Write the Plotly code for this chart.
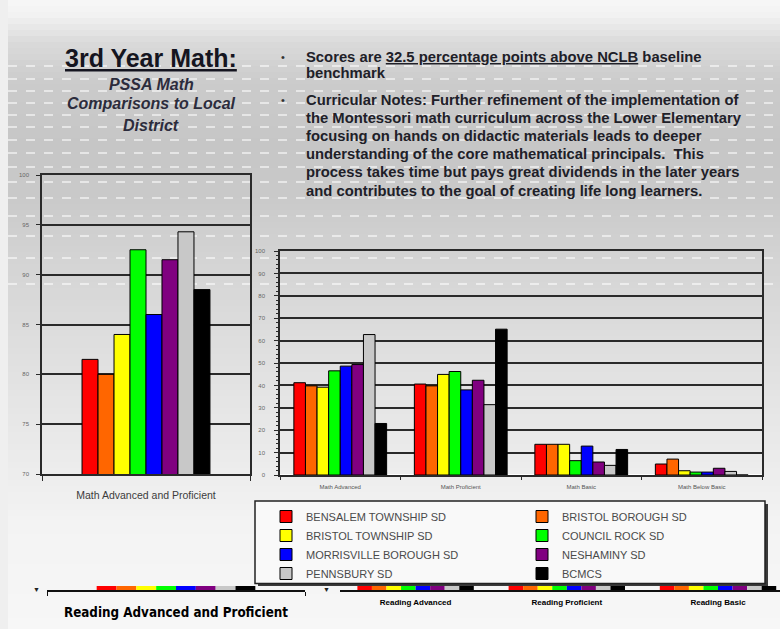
import plotly.graph_objects as go

# ---------------- data ----------------
districts = ["BENSALEM TOWNSHIP SD", "BRISTOL BOROUGH SD", "BRISTOL TOWNSHIP SD",
             "COUNCIL ROCK SD", "MORRISVILLE BOROUGH SD", "NESHAMINY SD",
             "PENNSBURY SD", "BCMCS"]
colors = ["#FF0000", "#FF6600", "#FFFF00", "#00FF00", "#0000FF", "#800080",
          "#C8C8C8", "#000000"]

left_category = ["Math Advanced and Proficient"]
math_adv_prof = [81.5, 80.0, 84.0, 92.5, 86.0, 91.5, 94.3, 88.5]
left_ticks = [70, 75, 80, 85, 90, 95, 100]

math_categories = ["Math Advanced", "Math Proficient", "Math Basic", "Math Below Basic"]
math_advanced = [41.2, 39.8, 39.2, 46.5, 48.6, 49.3, 62.7, 23.0]
math_proficient = [40.6, 39.8, 44.9, 46.2, 38.0, 42.3, 31.4, 65.1]
math_basic = [13.7, 13.7, 13.7, 6.4, 12.9, 5.8, 4.3, 11.4]
math_below_basic = [4.9, 7.1, 1.9, 1.3, 1.3, 3.0, 1.6, 0.0]
right_ticks = [0, 10, 20, 30, 40, 50, 60, 70, 80, 90, 100]

# Reading charts below are cut off by the slide: only the base of their bars shows
reading_left_category = ["Reading Advanced and Proficient"]
reading_categories = ["Reading Advanced", "Reading Proficient", "Reading Basic"]
reading_left_stub = [1, 1, 1, 1, 1, 1, 1, 1]
reading_adv_stub = [1, 1, 1, 1, 1, 1, 1, 1]
reading_prof_stub = [1, 1, 1, 1, 1, 1, 1, 1]
reading_basic_stub = [1, 1, 1, 1, 1, 1, 1, 1]

# ---------------- layout helpers ----------------
W, H = 780, 629
def fx(x):
    return x / W
def fy(y):
    return 1 - y / H

FONT = "Liberation Sans, Arial, sans-serif"
GRID = "#2a2a2a"

fig = go.Figure()

n = len(districts)
left_group = 0.615
bw = left_group / n
for i in range(n):
    fig.add_trace(go.Bar(
        x=left_category, y=[math_adv_prof[i]], name=districts[i],
        marker=dict(color=colors[i], line=dict(color="#000", width=1)),
        width=bw, offset=-left_group / 2 + i * bw,
        xaxis="x", yaxis="y", showlegend=False, hoverinfo="y+name"))

# right chart bars; legend split in two columns (odd / even entries)
for i in range(n):
    fig.add_trace(go.Bar(
        x=math_categories,
        y=[math_advanced[i], math_proficient[i], math_basic[i], math_below_basic[i]],
        name=districts[i],
        marker=dict(color=colors[i], line=dict(color="#000", width=1)),
        xaxis="x2", yaxis="y2", showlegend=True,
        legend="legend" if i % 2 == 0 else "legend2"))

for i in range(n):
    fig.add_trace(go.Bar(
        x=reading_left_category, y=[reading_left_stub[i]], name=districts[i],
        marker=dict(color=colors[i], line=dict(width=0)),
        width=bw, offset=-left_group / 2 + i * bw,
        xaxis="x3", yaxis="y3", showlegend=False, hoverinfo="skip"))
    fig.add_trace(go.Bar(
        x=reading_categories,
        y=[reading_adv_stub[i], reading_prof_stub[i], reading_basic_stub[i]],
        name=districts[i],
        marker=dict(color=colors[i], line=dict(width=0)),
        xaxis="x4", yaxis="y4", showlegend=False, hoverinfo="skip"))

# ---------------- background (slide theme) ----------------
shapes = []
stops = [(0, 246), (12, 242), (40, 218), (80, 203), (140, 198), (200, 202),
         (260, 212), (330, 221), (400, 229), (470, 237), (520, 243), (629, 247)]
step = 6
y = 0
while y < H:
    for (a, ga), (b, gb) in zip(stops[:-1], stops[1:]):
        if a <= y <= b:
            g = ga + (gb - ga) * (y - a) / (b - a)
            break
    g = int(round(g))
    shapes.append(dict(type="rect", xref="paper", yref="paper", layer="below",
                       x0=0, x1=1, y0=fy(min(y + step, H)), y1=fy(y),
                       fillcolor=f"rgb({g},{g},{g})", line=dict(width=0)))
    y += step
shapes.append(dict(type="rect", xref="paper", yref="paper", layer="below",
                   x0=0, x1=fx(8), y0=0, y1=1, fillcolor="#efefef", line=dict(width=0)))
for sy in [66, 79, 91, 103, 115, 127, 140, 153, 167, 182, 198, 216, 236, 258, 284]:
    shapes.append(dict(type="line", xref="paper", yref="paper", layer="below",
                       x0=fx(8), x1=1, y0=fy(sy), y1=fy(sy),
                       line=dict(color="rgba(255,255,255,0.55)", width=2, dash="dash")))

# legend box with shadow
shapes.append(dict(type="rect", xref="paper", yref="paper", layer="below",
                   x0=fx(258), x1=fx(768), y0=fy(586), y1=fy(504),
                   fillcolor="#3a3a3a", line=dict(width=0)))
shapes.append(dict(type="rect", xref="paper", yref="paper", layer="below",
                   x0=fx(255), x1=fx(765), y0=fy(583.5), y1=fy(501),
                   fillcolor="#f9f9f9", line=dict(color="#222", width=1.5)))

# ---------------- texts ----------------
ann = []
ann.append(dict(text="<u><b>3rd Year Math:</b></u>", x=fx(151), y=fy(58),
                font=dict(size=25, color="#151520", family=FONT)))
for t, yy in [("PSSA Math", 85), ("Comparisons to Local", 103), ("District", 126)]:
    ann.append(dict(text=f"<b><i>{t}</i></b>", x=fx(151), y=fy(yy),
                    font=dict(size=16, color="#2c2c3c", family=FONT)))
for yy in [57, 100]:
    ann.append(dict(text="•", x=fx(283), y=fy(yy), font=dict(size=11, color="#333", family=FONT)))
lines = [
    ("Scores are <u>32.5 percentage points above NCLB</u> baseline", 57),
    ("benchmark", 73),
    ("Curricular Notes: Further refinement of the implementation of", 100),
    ("the Montessori math curriculum across the Lower Elementary", 118),
    ("focusing on hands on didactic materials leads to deeper", 136),
    ("understanding of the core mathematical principals.  This", 154),
    ("process takes time but pays great dividends in the later years", 172.5),
    ("and contributes to the goal of creating life long learners.", 190.5),
]
for t, yy in lines:
    ann.append(dict(text=f"<b>{t}</b>", x=fx(304), y=fy(yy), xanchor="left",
                    font=dict(size=14.8, color="#202028", family=FONT)))
for xx in [36, 326]:
    ann.append(dict(text="▼", x=fx(xx), y=fy(589), font=dict(size=7, color="#222", family=FONT)))
for a in ann:
    a.setdefault("xref", "paper")
    a.setdefault("yref", "paper")
    a.setdefault("showarrow", False)
    a.setdefault("xanchor", "center")
    a.setdefault("yanchor", "middle")

axis_common = dict(showline=True, linecolor=GRID, linewidth=1.5, mirror=True,
                   ticks="outside", tickcolor=GRID, fixedrange=True)
legend_common = dict(orientation="v", yanchor="top", xanchor="left",
                     bgcolor="rgba(0,0,0,0)", borderwidth=0,
                     font=dict(size=11, color="#4a4a4a", family=FONT),
                     traceorder="normal", itemclick=False, itemdoubleclick=False)

fig.update_layout(
    width=W, height=H, margin=dict(l=0, r=0, t=0, b=0, autoexpand=False),
    paper_bgcolor="#ececec", plot_bgcolor="rgba(0,0,0,0)",
    barmode="group", bargap=0.23, bargroupgap=0,
    font=dict(family=FONT),
    shapes=shapes, annotations=ann,
    showlegend=True,
    legend=dict(x=fx(266), y=fy(502), **legend_common),
    legend2=dict(x=fx(522), y=fy(502), **legend_common),
    xaxis=dict(domain=[fx(42), fx(250)], anchor="y", type="category",
               tickson="boundaries", ticklen=5, ticklabelstandoff=11,
               tickfont=dict(size=10.5, color="#3c3c3c"), **axis_common),
    yaxis=dict(domain=[fy(474), fy(175)], anchor="x", range=[70, 100],
               tickvals=left_ticks, ticklen=4, ticklabelstandoff=6,
               showgrid=True, gridcolor=GRID, gridwidth=1.5,
               tickfont=dict(size=6, color="#666"), **axis_common),
    xaxis2=dict(domain=[fx(280), fx(762)], anchor="y2", type="category",
                tickson="boundaries", ticklen=3, ticklabelstandoff=5,
                tickfont=dict(size=6, color="#555"), **axis_common),
    yaxis2=dict(domain=[fy(475), fy(251)], anchor="x2", range=[0, 100],
                tickvals=right_ticks, ticklen=4, ticklabelstandoff=8,
                showgrid=True, gridcolor=GRID, gridwidth=1.5,
                minor=dict(dtick=2, ticks="outside", ticklen=2, tickcolor=GRID, showgrid=False),
                tickfont=dict(size=6, color="#666"), **axis_common),
    xaxis3=dict(domain=[fx(47), fx(305)], anchor="y3", type="category",
                showline=True, linecolor="#111", linewidth=1.5,
                ticks="outside", tickson="boundaries", ticklen=4, tickcolor="#111",
                tickvals=reading_left_category,
                ticktext=[f"<b>{c}</b>" for c in reading_left_category],
                ticklabelstandoff=9,
                tickfont=dict(size=13.3, color="#000",
                              family="Liberation Sans Narrow, Arial Narrow, DejaVu Sans Condensed, Liberation Sans"),
                fixedrange=True),
    yaxis3=dict(domain=[fy(590), fy(586)], anchor="x3", range=[0, 1], visible=False, fixedrange=True),
    xaxis4=dict(domain=[fx(340), 1], anchor="y4", type="category", range=[-0.5, 2.41],
                showline=True, linecolor="#111", linewidth=1.5, ticks="",
                tickvals=reading_categories,
                ticktext=[f"<b>{c}</b>" for c in reading_categories],
                ticklabelstandoff=4,
                tickfont=dict(size=8, color="#000"), fixedrange=True),
    yaxis4=dict(domain=[fy(590), fy(586)], anchor="x4", range=[0, 1], visible=False, fixedrange=True),
)

fig.write_html("out.html", config={"displayModeBar": False},
               post_script="document.body.style.margin='0';document.body.style.overflow='hidden';")
